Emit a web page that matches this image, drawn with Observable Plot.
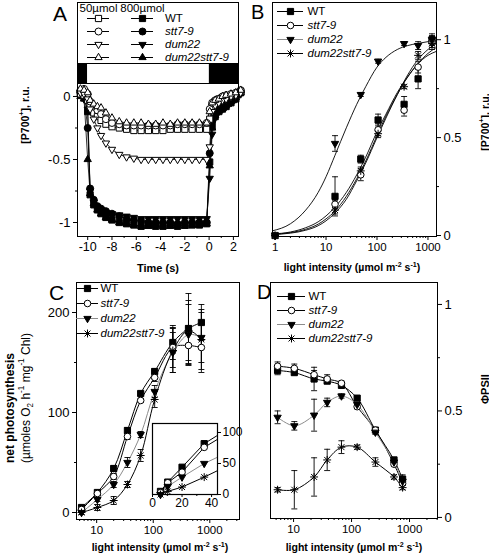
<!DOCTYPE html>
<html><head><meta charset="utf-8">
<script src="https://cdn.jsdelivr.net/npm/d3@7"></script>
<script src="https://cdn.jsdelivr.net/npm/@observablehq/plot@0.6"></script>
<style>
body{margin:0;background:#fff;}
#fig{position:relative;width:489px;height:558px;overflow:hidden;background:#fff;}
</style></head><body><div id="fig"></div>
<script>
// ================= DATA =================
// ---- Panel A: P700 oxidation kinetics (time in s) ----
const A_time = [-10.6,-10.3,-10.0,-9.8,-9.5,-9.2,-8.9,-8.5,-8.0,-7.4,-6.8,-6.2,-5.6,-5.0,-4.4,-3.8,-3.2,-2.6,-2.0,-1.4,-0.8,-0.2,0.05,0.25,0.5,0.8,1.1,1.4,1.8,2.2,2.6];
const A_WT_50    = [0.02,0.01,-0.03,-0.08,-0.13,-0.16,-0.19,-0.22,-0.24,-0.25,-0.26,-0.27,-0.27,-0.27,-0.27,-0.27,-0.26,-0.26,-0.26,-0.26,-0.26,-0.26,-0.18,-0.08,-0.04,-0.02,-0.01,0.0,0.01,0.02,0.04];
const A_stt7_50  = [0.05,0.06,0.02,-0.04,-0.08,-0.11,-0.14,-0.18,-0.21,-0.22,-0.23,-0.23,-0.23,-0.23,-0.23,-0.23,-0.23,-0.22,-0.22,-0.22,-0.22,-0.21,-0.1,-0.05,-0.03,-0.02,0.0,0.01,0.02,0.03,0.05];
const A_dum22_50 = [0.03,0.02,-0.02,-0.1,-0.18,-0.25,-0.31,-0.37,-0.42,-0.46,-0.48,-0.49,-0.5,-0.5,-0.5,-0.5,-0.5,-0.5,-0.5,-0.5,-0.5,-0.5,-0.4,-0.12,-0.07,-0.05,-0.03,-0.02,0.0,0.01,0.03];
const A_dX_50    = [0.06,0.05,0.03,-0.03,-0.06,-0.08,-0.09,-0.13,-0.17,-0.2,-0.21,-0.21,-0.21,-0.22,-0.22,-0.21,-0.22,-0.21,-0.21,-0.21,-0.21,-0.21,-0.12,-0.05,-0.03,-0.02,0.0,0.01,0.02,0.03,0.05];
const A_WT_800    = [0.02,-0.01,-0.12,-0.78,-0.86,-0.9,-0.93,-0.96,-0.98,-1.0,-1.01,-1.02,-1.03,-1.02,-1.03,-1.03,-1.02,-1.03,-1.02,-1.02,-1.02,-1.01,-0.52,-0.24,-0.16,-0.12,-0.1,-0.08,-0.05,-0.02,0.03];
const A_stt7_800  = [0.03,0.0,-0.25,-0.73,-0.82,-0.87,-0.89,-0.91,-0.93,-0.95,-0.97,-0.98,-0.99,-1.0,-1.0,-1.0,-1.0,-1.01,-1.0,-1.0,-1.0,-1.0,-0.45,-0.2,-0.13,-0.1,-0.08,-0.06,-0.04,-0.01,0.03];
const A_dum22_800 = [0.02,-0.02,-0.1,-0.75,-0.84,-0.88,-0.9,-0.92,-0.93,-0.94,-0.95,-0.96,-0.97,-0.97,-0.97,-0.97,-0.97,-0.97,-0.97,-0.97,-0.97,-0.97,-0.65,-0.3,-0.17,-0.12,-0.1,-0.08,-0.05,-0.02,0.02];
const A_dX_800    = [0.0,-0.02,-0.5,-0.77,-0.85,-0.9,-0.93,-0.96,-0.98,-1.0,-1.01,-1.02,-1.03,-1.03,-1.02,-1.03,-1.03,-1.02,-1.03,-1.02,-1.02,-1.01,-0.55,-0.25,-0.15,-0.11,-0.09,-0.07,-0.04,-0.01,0.03];
const A_lightOn = -10, A_lightOff = 0;
const A_xTicks = [-10,-8,-6,-4,-2,0,2];
const A_xMinor = [-9,-7,-5,-3,-1,1];
const A_yTicks = [0,-0.5,-1];
const A_yMinor = [-0.25,-0.75];
const A_legendCols = ["50µmol","800µmol"];

// ---- Panel B: P700+ vs light ----
const B_x      = [1,15,48,105,340,640,1200];
const B_WT     = [0,0.2,0.39,0.59,0.67,0.8,1.0];
const B_WT_e   = [0,0.1,0.02,0.03,0.04,0.05,0.03];
const B_stt7   = [0,0.16,0.31,0.54,0.64,0.86,0.99];
const B_stt7_e = [0,0.02,0.03,0.03,0.03,0.03,0.03];
const B_dum22  = [0,0.47,0.72,0.89,0.98,0.97,1.0];
const B_dum22_e= [0,0.04,0.01,0.01,0.01,0.02,0.02];
const B_dX     = [0,0.13,0.33,0.52,0.76,0.92,0.98];
const B_dX_e   = [0,0.02,0.02,0.02,0.01,0.02,0.03];
const B_curveX   = [0.89,2,4,7,10,15,25,40,60,100,150,250,400,600,1000,1450];
const B_fitWT    = [0.008,0.018,0.04,0.07,0.1,0.145,0.22,0.31,0.4,0.53,0.62,0.73,0.81,0.87,0.92,0.94];
const B_fitStt7  = [0.006,0.015,0.032,0.058,0.085,0.125,0.2,0.29,0.38,0.51,0.61,0.72,0.81,0.87,0.93,0.96];
const B_fitDum22 = [0.024,0.06,0.13,0.22,0.30,0.41,0.55,0.67,0.76,0.86,0.91,0.95,0.97,0.98,0.99,0.995];
const B_fitDX    = [0.005,0.012,0.027,0.05,0.075,0.115,0.185,0.28,0.37,0.5,0.6,0.72,0.82,0.89,0.95,0.98];
const B_xTicks = [1,10,100,1000];
const B_yTicks = [0,0.5,1];
const B_yMinor = [0.25,0.75];

// ---- Panel C: net photosynthesis ----
const C_x       = [5.4,10.3,20,35,60,106,222,420,710];
const C_WT      = [5,20,44,82,119,141,170,184,190];
const C_WT_e    = [2,2,3,3,2,3,17,35,18];
const C_stt7    = [3,19,36,76,112,135,165,167,165];
const C_stt7_e  = [2,2,3,3,2,4,20,20,25];
const C_dum22   = [0,13,28,50,78,121,160,178,175];
const C_dum22_e = [2,2,3,5,3,6,20,30,25];
const C_dX      = [0,5,12,28,57,113,162,182,173];
const C_dX_e    = [2,3,4,3,6,8,22,30,30];
const C_xTicks = [10,100,1000];
const C_yTicks = [0,100,200];
const C_yMinor = [50,150];
const CI_xTicks = [0,20,40];
const CI_xMinor = [10,30];
const CI_yTicks = [0,50,100];

// ---- Panel D: PhiPSII ----
const D_x       = [5.3,10.3,22.6,38,67,125,258,540,760];
const D_WT      = [0.69,0.68,0.65,0.64,0.62,0.56,0.41,0.27,0.18];
const D_WT_e    = [0.02,0.01,0.055,0.01,0.01,0.01,0.01,0.01,0.02];
const D_stt7    = [0.71,0.70,0.67,0.65,0.63,0.52,0.41,0.25,0.16];
const D_stt7_e  = [0.02,0.02,0.02,0.02,0.01,0.01,0.01,0.01,0.01];
const D_dum22   = [0.47,0.43,0.48,0.54,0.57,0.53,0.40,0.26,0.17];
const D_dum22_e = [0.03,0.02,0.075,0.02,0.01,0.01,0.01,0.01,0.01];
const D_dX      = [0.13,0.13,0.19,0.27,0.33,0.33,0.26,0.19,0.14];
const D_dX_e    = [0.01,0.09,0.09,0.05,0.03,0.01,0.02,0.01,0.01];
const D_xTicks = [10,100,1000];
const D_yTicks = [0,0.5,1];
const D_yMinor = [0.25,0.75];

const strains = ["WT","stt7","dum22","dX"];
const strainLabels = {WT:"WT", stt7:"stt7-9", dum22:"dum22", dX:"dum22stt7-9"};

// ================= STYLE / HELPERS =================
const FONT = "Liberation Sans, Arial, Helvetica, sans-serif";
const baseStyle = {fontFamily: FONT, fontSize: "11px", background: "transparent", color: "black", overflow: "visible"};
const fig = document.getElementById("fig");

const sqSym = {draw(c,s){const h=Math.sqrt(s)/2; c.moveTo(-h,-h); c.lineTo(h,-h); c.lineTo(h,h); c.lineTo(-h,h); c.closePath();}};
const triUpSym = {draw(c,s){const R=Math.sqrt(s)*0.68; c.moveTo(0,-R); c.lineTo(0.866*R,0.5*R); c.lineTo(-0.866*R,0.5*R); c.closePath();}};
const triDownSym = {draw(c,s){const R=Math.sqrt(s)*0.68; c.moveTo(0,R); c.lineTo(0.866*R,-0.5*R); c.lineTo(-0.866*R,-0.5*R); c.closePath();}};
const starSym = {draw(c,s){const R=Math.sqrt(s)*0.62, d=R*0.75; c.moveTo(-R,0); c.lineTo(R,0); c.moveTo(0,-R); c.lineTo(0,R); c.moveTo(-d,-d); c.lineTo(d,d); c.moveTo(d,-d); c.lineTo(-d,d);}};
const capSym = {draw(c,s){const r=Math.sqrt(s/Math.PI); c.moveTo(-r,0); c.lineTo(r,0);}};

const A_sym = {WT: sqSym, stt7: "circle", dum22: triDownSym, dX: triUpSym};
const S_sym = {WT: sqSym, stt7: "circle", dum22: triDownSym, dX: starSym};
const S_fill = {WT: "black", stt7: "white", dum22: "black", dX: "white"};
const S_line = {WT: "black", stt7: "black", dum22: "#8c8c8c", dX: "black"};
const R_of = {WT: 3.5, stt7: 3.3, dum22: 3.5, dX: 3.6};

const mk = (xs, ys, es) => xs.map((x,i) => ({x, y: ys[i], e: es ? es[i] : 0}));
const fmt = d => String(d);
const logMinor = (lo, hi, dom) => { const t=[]; for (let p=lo;p<=hi;p++) for (let k=2;k<=9;k++){const v=k*10**p; if (v>dom[0] && v<dom[1]) t.push(v);} return t; };

function place(svg, left, top){ svg.style.position="absolute"; svg.style.left=left+"px"; svg.style.top=top+"px"; fig.appendChild(svg); return svg; }

function errMarks(rows, extra={}){
  const r = rows.filter(d => d.e > 0);
  return [
    Plot.ruleX(r, {x:"x", y1: d=>d.y-d.e, y2: d=>d.y+d.e, stroke:"black", strokeWidth:0.9, ...extra}),
    Plot.dot(r, {x:"x", y: d=>d.y+d.e, symbol: capSym, r:3, stroke:"black", fill:"none", strokeWidth:0.9, ...extra}),
    Plot.dot(r, {x:"x", y: d=>d.y-d.e, symbol: capSym, r:3, stroke:"black", fill:"none", strokeWidth:0.9, ...extra})
  ];
}
function dotMark(rows, key, symMap, extra={}){
  return Plot.dot(rows, {x:"x", y:"y", symbol: symMap[key], r: R_of[key], fill: S_fill[key], stroke:"black", strokeWidth:1, ...extra});
}

// ================= PANEL A =================
const A_xDomain = [-10.84, 2.42];
const A_series = [
  {key:"WT", y:A_WT_800, open:false},{key:"stt7", y:A_stt7_800, open:false},
  {key:"dum22", y:A_dum22_800, open:false},{key:"dX", y:A_dX_800, open:false},
  {key:"WT", y:A_WT_50, open:true},{key:"stt7", y:A_stt7_50, open:true},
  {key:"dum22", y:A_dum22_50, open:true},{key:"dX", y:A_dX_50, open:true}
];
const A_marks = [];
for (const s of A_series){
  const rows = mk(A_time, s.y);
  A_marks.push(Plot.line(rows, {x:"x", y:"y", stroke:"black", strokeWidth:0.8}));
}
for (const s of A_series){
  const rows = mk(A_time, s.y);
  A_marks.push(Plot.dot(rows, {x:"x", y:"y", symbol: A_sym[s.key], r: 3.5, fill: s.open ? "white" : "black", stroke:"black", strokeWidth:1}));
}
place(Plot.plot({
  width:245, height:200, marginLeft:77, marginRight:7, marginTop:5, marginBottom:42,
  style: baseStyle,
  x:{domain:A_xDomain}, y:{domain:[-1.111,0.103]},
  marks:[
    Plot.axisX({ticks:A_xTicks, tickSize:4, tickPadding:2, tickFormat:fmt, fontSize:12.5, label:null}),
    Plot.axisX({ticks:A_xMinor, tickSize:2, tickFormat:()=>"", label:null}),
    Plot.axisY({ticks:A_yTicks, tickSize:4, tickPadding:3, tickFormat:fmt, fontSize:13, label:null}),
    Plot.axisY({ticks:A_yMinor, tickSize:2, tickFormat:()=>"", label:null}),
    ...A_marks,
    Plot.frame({stroke:"black"})
  ]
}), 0, 78);

// light regime strip
const A_phases = [
  {start: A_xDomain[0]-1, end: A_lightOn, light:false},
  {start: A_lightOn, end: A_lightOff, light:true},
  {start: A_lightOff, end: A_xDomain[1]+1, light:false}
];
place(Plot.plot({
  width:245, height:26, marginLeft:77, marginRight:7, marginTop:5, marginBottom:1,
  style: baseStyle,
  x:{domain:A_xDomain, axis:null},
  marks:[
    Plot.rect(A_phases.filter(d=>!d.light), {x1:"start", x2:"end", fill:"black", clip:true}),
    Plot.rect(A_phases.filter(d=>d.light), {x1:"start", x2:"end", fill:"white", clip:true}),
    Plot.frame({stroke:"black"})
  ]
}), 0, 58);

// legend A
{
  const lm = [];
  strains.forEach(k => {
    A_legendCols.forEach((col, ci) => {
      lm.push(Plot.tickY([k], {x:()=>col, y:d=>d, stroke:"black", strokeWidth:1}));
      lm.push(Plot.dot([k], {x:()=>col, y:d=>d, symbol:A_sym[k], r:3.5, fill: ci===0 ? "white" : "black", stroke:"black", strokeWidth:1}));
    });
    lm.push(Plot.text([k], {x:()=>A_legendCols[1], y:d=>d, text:d=>strainLabels[d], dx:22.5, textAnchor:"start", fontSize:11.5, fontStyle: k==="WT" ? "normal" : "italic"}));
  });
  lm.push(Plot.text(A_legendCols, {x:d=>d, frameAnchor:"top", dy:5.5, lineAnchor:"middle", text:d=>d, fontSize:11.5}));
  place(Plot.plot({
    width:245, height:66, marginLeft:77, marginRight:7, marginTop:2, marginBottom:3,
    style: baseStyle,
    x:{type:"band", domain:A_legendCols, range:[86.5,153.5], paddingInner:0.511, paddingOuter:0, axis:null},
    y:{type:"point", domain:strains, range:[18,57.5], padding:0, axis:null},
    marks:[Plot.frame({stroke:"black"}), ...lm]
  }), 0, 0);
}

// ================= generic legend for B/C/D =================
function legend4({left, top, width, height, x0, x1, y0, y1, dx, fontSize}){
  const lm = [];
  strains.forEach(k => {
    lm.push(Plot.tickY([k], {x:()=>"s", y:d=>d, stroke:S_line[k], strokeWidth:1}));
    lm.push(Plot.dot([k], {x:()=>"s", y:d=>d, symbol:S_sym[k], r:R_of[k], fill:S_fill[k], stroke:"black", strokeWidth:1}));
    lm.push(Plot.text([k], {x:()=>"s", y:d=>d, text:d=>strainLabels[d], dx, textAnchor:"start", fontSize, fontStyle: k==="WT" ? "normal" : "italic"}));
  });
  place(Plot.plot({
    width, height, margin:0, style: baseStyle,
    x:{type:"band", domain:["s"], range:[x0,x1], padding:0, axis:null},
    y:{type:"point", domain:strains, range:[y0,y1], padding:0, axis:null},
    marks: lm
  }), left, top);
}

// ================= PANEL B =================
{
  const dom = [0.89,1470];
  const pts = {WT: mk(B_x,B_WT,B_WT_e), stt7: mk(B_x,B_stt7,B_stt7_e), dum22: mk(B_x,B_dum22,B_dum22_e), dX: mk(B_x,B_dX,B_dX_e)};
  const fits = {WT: mk(B_curveX,B_fitWT), stt7: mk(B_curveX,B_fitStt7), dum22: mk(B_curveX,B_fitDum22), dX: mk(B_curveX,B_fitDX)};
  const m = [];
  strains.forEach(k => m.push(Plot.line(fits[k], {x:"x", y:"y", stroke:"black", strokeWidth:0.9, curve:"monotone-x"})));
  strains.forEach(k => m.push(...errMarks(pts[k])));
  strains.forEach(k => m.push(dotMark(pts[k], k, S_sym)));
  place(Plot.plot({
    width:244, height:280, marginLeft:27, marginRight:53, marginTop:2, marginBottom:44,
    style: baseStyle,
    x:{type:"log", domain:dom}, y:{domain:[-0.005,1.19]},
    marks:[
      Plot.axisX({ticks:B_xTicks, tickSize:4, tickPadding:2, tickFormat:fmt, fontSize:11.5, label:null}),
      Plot.axisX({ticks:logMinor(0,3,dom), tickSize:2, tickFormat:()=>"", label:null}),
      Plot.axisY({anchor:"right", ticks:B_yTicks, tickSize:4, tickPadding:3, tickFormat:fmt, fontSize:13, label:null}),
      Plot.axisY({anchor:"right", ticks:B_yMinor, tickSize:2, tickFormat:()=>"", label:null}),
      ...m,
      Plot.frame({stroke:"black"})
    ]
  }), 245, 0);
  legend4({left:245, top:0, width:200, height:70, x0:32, x1:58, y0:10, y1:53.5, dx:17, fontSize:11.5});
}

// ================= PANEL C =================
{
  const dom = [4.4,3350];
  const pts = {WT: mk(C_x,C_WT,C_WT_e), stt7: mk(C_x,C_stt7,C_stt7_e), dum22: mk(C_x,C_dum22,C_dum22_e), dX: mk(C_x,C_dX,C_dX_e)};
  const m = [];
  strains.forEach(k => m.push(Plot.line(pts[k], {x:"x", y:"y", stroke:S_line[k], strokeWidth:1, curve:"catmull-rom"})));
  strains.forEach(k => m.push(...errMarks(pts[k])));
  strains.forEach(k => m.push(dotMark(pts[k], k, S_sym)));
  place(Plot.plot({
    width:245, height:278, marginLeft:76, marginRight:6, marginTop:2, marginBottom:39,
    style: baseStyle,
    x:{type:"log", domain:dom}, y:{domain:[-7,230]},
    marks:[
      Plot.axisX({ticks:C_xTicks, tickSize:4, tickPadding:2, tickFormat:fmt, fontSize:11.5, label:null}),
      Plot.axisX({ticks:logMinor(0,3,dom), tickSize:2, tickFormat:()=>"", label:null}),
      Plot.axisY({ticks:C_yTicks, tickSize:4, tickPadding:3, tickFormat:fmt, fontSize:13, label:null}),
      Plot.axisY({ticks:C_yMinor, tickSize:2, tickFormat:()=>"", label:null}),
      ...m,
      Plot.frame({stroke:"black"})
    ]
  }), 0, 280);
  legend4({left:0, top:280, width:200, height:70, x0:76, x1:98, y0:8, y1:53, dx:13, fontSize:11.5});

  // inset
  const im = [Plot.frame({fill:"white"})];
  strains.forEach(k => im.push(Plot.line(pts[k], {x:"x", y:"y", stroke:S_line[k], strokeWidth:1, clip:true})));
  strains.forEach(k => im.push(dotMark(pts[k].filter(d=>d.x<44), k, S_sym)));
  place(Plot.plot({
    width:95, height:92, marginLeft:5, marginRight:25, marginTop:5, marginBottom:16,
    style: baseStyle,
    x:{domain:[0,44]}, y:{domain:[0,114.5]},
    marks:[
      ...im,
      Plot.axisX({ticks:CI_xTicks, tickSize:3, tickPadding:1, tickFormat:fmt, fontSize:12, label:null}),
      Plot.axisX({ticks:CI_xMinor, tickSize:2, tickFormat:()=>"", label:null}),
      Plot.axisY({anchor:"right", ticks:CI_yTicks, tickSize:3, tickPadding:2, tickFormat:fmt, fontSize:12, label:null}),
      Plot.frame({stroke:"black", strokeWidth:1.2})
    ]
  }), 147, 418);
}

// ================= PANEL D =================
{
  const dom = [4.0,3040];
  const pts = {WT: mk(D_x,D_WT,D_WT_e), stt7: mk(D_x,D_stt7,D_stt7_e), dum22: mk(D_x,D_dum22,D_dum22_e), dX: mk(D_x,D_dX,D_dX_e)};
  const m = [];
  strains.forEach(k => m.push(Plot.line(pts[k], {x:"x", y:"y", stroke:S_line[k], strokeWidth:1, curve:"catmull-rom"})));
  strains.forEach(k => m.push(...errMarks(pts[k])));
  strains.forEach(k => m.push(dotMark(pts[k], k, S_sym)));
  place(Plot.plot({
    width:244, height:278, marginLeft:25, marginRight:52, marginTop:2, marginBottom:40,
    style: baseStyle,
    x:{type:"log", domain:dom}, y:{domain:[-0.005,1.103]},
    marks:[
      Plot.axisX({ticks:D_xTicks, tickSize:4, tickPadding:2, tickFormat:fmt, fontSize:11.5, label:null}),
      Plot.axisX({ticks:logMinor(0,3,dom), tickSize:2, tickFormat:()=>"", label:null}),
      Plot.axisY({anchor:"right", ticks:D_yTicks, tickSize:4, tickPadding:3, tickFormat:fmt, fontSize:13, label:null}),
      Plot.axisY({anchor:"right", ticks:D_yMinor, tickSize:2, tickFormat:()=>"", label:null}),
      ...m,
      Plot.frame({stroke:"black"})
    ]
  }), 245, 280);
  legend4({left:245, top:280, width:200, height:75, x0:32, x1:60, y0:15, y1:58, dx:17, fontSize:11.5});
}

// ================= TEXT OVERLAY =================
const ov = d3.select(fig).append("svg").attr("width",489).attr("height",558)
  .style("position","absolute").style("left","0px").style("top","0px").style("overflow","visible");
function label(x, y, parts, o){
  const t = ov.append("text").attr("x",x).attr("y",y).attr("font-family",FONT)
    .attr("font-size",o.size).attr("font-weight",o.weight||"normal").attr("text-anchor",o.anchor||"middle");
  if (o.rotate) t.attr("transform",`rotate(${o.rotate},${x},${y})`);
  let shift = 0;
  for (const [s,k] of parts){
    const target = k==="sup" ? -0.42*o.size : k==="sub" ? 0.28*o.size : 0;
    const ts = t.append("tspan").attr("dy", target-shift).text(s);
    if (k==="sup"||k==="sub") ts.attr("font-size", o.size*0.68);
    shift = target;
  }
}
label(53, 21, [["A"]], {size:21, anchor:"start"});
label(251, 18.5, [["B"]], {size:20, anchor:"start"});
label(49, 300, [["C"]], {size:21, anchor:"start"});
label(257, 298.5, [["D"]], {size:20, anchor:"start"});

const lightLabel = [["light intensity (µmol m"],["-2","sup"],[" s"],["-1","sup"],[")"]];
label(158, 272, [["Time (s)"]], {size:11, weight:"bold"});
label(352, 271, lightLabel, {size:10.5, weight:"bold"});
label(160, 551, lightLabel, {size:10.5, weight:"bold"});
label(354, 551, lightLabel, {size:10.5, weight:"bold"});

const p700 = [["[P700"],["+","sup"],["], r.u."]];
label(28.5, 115, p700, {size:10.5, weight:"bold", rotate:-90});
label(488.5, 122, p700, {size:10.5, weight:"bold", rotate:-90});
label(488.5, 389, [["ΦPSII"]], {size:11, weight:"bold", rotate:-90});
label(14, 408, [["net photosynthesis"]], {size:12, weight:"bold", rotate:-90});
label(29.5, 398, [["(µmoles O"],["2","sub"],[" h"],["-1","sup"],[" mg"],["-1","sup"],[" Chl)"]], {size:12, rotate:-90});
</script></body></html>
